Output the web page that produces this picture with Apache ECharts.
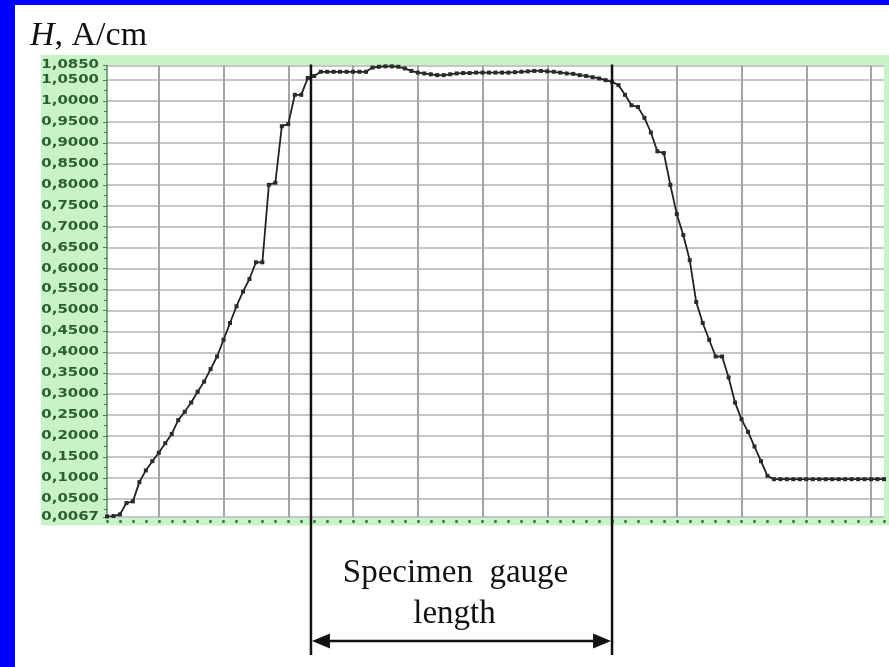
<!DOCTYPE html>
<html>
<head>
<meta charset="utf-8">
<script src="https://cdn.jsdelivr.net/npm/echarts@6/dist/echarts.min.js"></script>
<style>
  html, body { margin: 0; padding: 0; background: #0000ff; width: 889px; height: 667px; overflow: hidden; }
  #chart { position: absolute; left: 15px; top: 5px; width: 874px; height: 662px; background: #fff; }
</style>
</head>
<body>
<div id="chart"></div>
<script>
// field strength H along the specimen, one point per half scale division
var fieldValues = [
  0.008, 0.009, 0.013, 0.040, 0.044, 0.090, 0.118, 0.140, 0.160, 0.183,
  0.205, 0.238, 0.258, 0.280, 0.306, 0.330, 0.360, 0.390, 0.430, 0.470,
  0.510, 0.545, 0.575, 0.615, 0.615, 0.800, 0.805, 0.940, 0.945, 1.015,
  1.015, 1.055, 1.060, 1.070, 1.070, 1.070, 1.070, 1.070, 1.070, 1.070,
  1.070, 1.080, 1.082, 1.083, 1.083, 1.082, 1.078, 1.072, 1.068, 1.066,
  1.064, 1.062, 1.062, 1.064, 1.066, 1.067, 1.067, 1.068, 1.068, 1.068,
  1.068, 1.068, 1.068, 1.069, 1.070, 1.071, 1.072, 1.072, 1.071, 1.070,
  1.068, 1.066, 1.065, 1.062, 1.060, 1.057, 1.054, 1.050, 1.046, 1.038,
  1.015, 0.990, 0.986, 0.960, 0.925, 0.880, 0.876, 0.800, 0.730, 0.680,
  0.620, 0.520, 0.470, 0.430, 0.390, 0.390, 0.340, 0.280, 0.240, 0.210,
  0.175, 0.140, 0.105, 0.097, 0.097, 0.097, 0.097, 0.097, 0.097, 0.097,
  0.097, 0.097, 0.097, 0.097, 0.097, 0.097, 0.097, 0.097, 0.097, 0.097,
  0.097
];
var positions = [];
for (var i = 0; i < fieldValues.length; i++) positions.push(i);

var yTickValues = [0.0067, 0.05, 0.10, 0.15, 0.20, 0.25, 0.30, 0.35, 0.40, 0.45, 0.50,
  0.55, 0.60, 0.65, 0.70, 0.75, 0.80, 0.85, 0.90, 0.95, 1.00, 1.05, 1.085];
var yTickLabels = ["0,0067", "0,0500", "0,1000", "0,1500", "0,2000", "0,2500", "0,3000",
  "0,3500", "0,4000", "0,4500", "0,5000", "0,5500", "0,6000", "0,6500", "0,7000",
  "0,7500", "0,8000", "0,8500", "0,9000", "0,9500", "1,0000", "1,0500", "1,0850"];
var yMinorValues = [0.025, 0.075, 0.125, 0.175, 0.225, 0.275, 0.325, 0.375, 0.425, 0.475,
  0.525, 0.575, 0.625, 0.675, 0.725, 0.775, 0.825, 0.875, 0.925, 0.975, 1.025, 1.075];

var gaugeStart = 31.5;   // position index of left gauge mark
var gaugeEnd = 78;       // position index of right gauge mark
var yMin = 0.0067, yMax = 1.085;

var GRID = { left: 92, top: 60.5, width: 777, height: 451.5 };
var greenBg = '#c8f3c8';
var greenText = '#2d5f2d';

var chart = echarts.init(document.getElementById('chart'));

var option = {
  animation: false,
  grid: {
    left: GRID.left, top: GRID.top, width: GRID.width, height: GRID.height,
    show: true, backgroundColor: '#ffffff', borderWidth: 0
  },
  xAxis: {
    type: 'category',
    data: positions,
    boundaryGap: false,
    offset: 3,
    axisLine: { show: false },
    axisLabel: { show: false },
    axisTick: {
      interval: function (idx) { return idx % 2 === 0; },
      length: 3,
      lineStyle: { color: '#3d7a3d', width: 2.5 }
    },
    splitLine: {
      show: true,
      interval: function (idx) { return idx % 10 === 8; },
      lineStyle: { color: '#a4a4a4', width: 2 }
    }
  },
  yAxis: [
    {
      type: 'value', min: yMin, max: yMax,
      axisLine: { show: true, lineStyle: { color: '#5b8a5b', width: 1.5 } },
      axisTick: { show: true, customValues: yTickValues, length: 4, lineStyle: { color: '#4d7d4d' } },
      axisLabel: { show: false },
      splitLine: { show: true, lineStyle: { color: '#c6c6c6', width: 2 } }
    },
    {
      type: 'value', min: yMin, max: yMax, position: 'left',
      axisLine: { show: false },
      axisTick: { show: true, customValues: yMinorValues, length: 3, lineStyle: { color: '#4d7d4d' } },
      axisLabel: { show: false },
      splitLine: { show: false }
    }
  ],
  series: [{
    type: 'line',
    data: fieldValues,
    showAllSymbol: true,
    symbol: 'rect',
    symbolSize: 4,
    itemStyle: { color: '#2a2a2a' },
    lineStyle: { color: '#222222', width: 1.8 }
  }]
};
chart.setOption(option);

function px(i) { return chart.convertToPixel({ xAxisIndex: 0 }, i); }
function py(v) { return chart.convertToPixel({ yAxisIndex: 0 }, v); }

var axisX = px(0);
var topY = py(yMax);
var botY = py(yMin);
var xl = (px(Math.floor(gaugeStart)) + px(Math.ceil(gaugeStart))) / 2;
var xr = px(gaugeEnd);
var lineBottom = 650;
var arrowY = 636;
var mid = (xl + xr) / 2;

var elements = [];
// green frame behind the plot
elements.push({
  type: 'rect', z: -10, silent: true,
  shape: { x: axisX - 66, y: topY - 10.5, width: 874 - (axisX - 66), height: botY - topY + 19 },
  style: { fill: greenBg }
});
// y labels, stretched like the source
yTickValues.forEach(function (v, k) {
  elements.push({
    type: 'text', x: axisX - 8, y: py(v), scaleX: 1.3, z: 10,
    style: {
      text: yTickLabels[k], x: 0, y: 0, align: 'right', verticalAlign: 'middle',
      font: 'bold 11.5px "DejaVu Sans"', fill: greenText
    }
  });
});
// title
elements.push({
  type: 'text', x: 15, y: 31, z: 10,
  style: {
    text: '{i|H}, A/cm', align: 'left', verticalAlign: 'middle',
    font: '34px "Liberation Serif"', fill: '#111',
    rich: { i: { fontStyle: 'italic', fontFamily: 'Liberation Serif', fontSize: 34, fill: '#111' } }
  }
});
// gauge marks
[xl, xr].forEach(function (x) {
  elements.push({
    type: 'line', z: 20,
    shape: { x1: x, y1: topY - 1, x2: x, y2: lineBottom },
    style: { stroke: '#111', lineWidth: 2.5 }
  });
});
elements.push({
  type: 'line', z: 20,
  shape: { x1: xl + 10, y1: arrowY, x2: xr - 10, y2: arrowY },
  style: { stroke: '#111', lineWidth: 2.5 }
});
elements.push({
  type: 'polygon', z: 20,
  shape: { points: [[xl + 1, arrowY], [xl + 19, arrowY - 7.5], [xl + 19, arrowY + 7.5]] },
  style: { fill: '#111' }
});
elements.push({
  type: 'polygon', z: 20,
  shape: { points: [[xr - 1, arrowY], [xr - 19, arrowY - 7.5], [xr - 19, arrowY + 7.5]] },
  style: { fill: '#111' }
});
elements.push({
  type: 'text', x: mid - 6, y: 568, z: 20,
  style: { text: 'Specimen  gauge', align: 'center', verticalAlign: 'middle',
    font: '33px "Liberation Serif"', fill: '#111' }
});
elements.push({
  type: 'text', x: mid - 7, y: 609, z: 20,
  style: { text: 'length', align: 'center', verticalAlign: 'middle',
    font: '33px "Liberation Serif"', fill: '#111' }
});

chart.setOption({ graphic: { elements: elements } });
</script>
</body>
</html>
